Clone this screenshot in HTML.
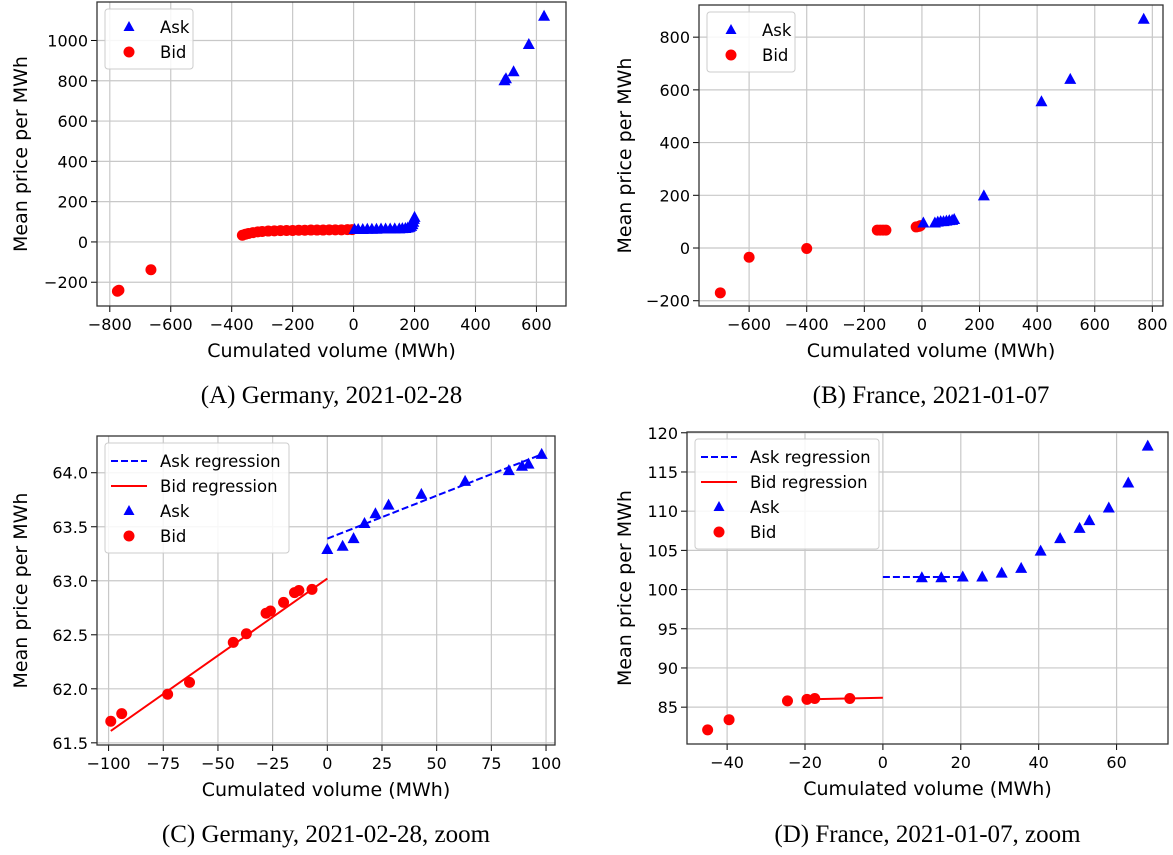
<!DOCTYPE html>
<html><head><meta charset="utf-8">
<style>
html,body{margin:0;padding:0;background:#fff;}
svg{display:block;}
text{font-family:"DejaVu Sans","Liberation Sans",sans-serif;fill:#000;}
.cap{font-family:"Liberation Serif",serif;font-size:25px;}
</style></head>
<body>
<svg id="fig" width="1173" height="855" viewBox="0 0 1173 855" xmlns="http://www.w3.org/2000/svg"></svg>
<script>
// Panel A data
const aAskX=[3,15,30,45,60,75,90,105,120,135,150,160,170,178,184,189,193,196,198,200,495,500,525,575,625];
const aAskY=[62,62,62,63,63,63,64,64,64,65,65,66,67,69,72,77,86,98,112,122,800,810,845,980,1120];
const aBidX=[-775,-770,-665,-365,-355,-345,-330,-315,-300,-280,-260,-240,-220,-200,-180,-160,-140,-120,-100,-80,-60,-40,-20,-5];
const aBidY=[-245,-240,-138,33,38,42,46,50,52,54,55,56,57,57,58,58,59,59,59,60,60,60,61,61];
// Panel B data
const bAskX=[5,45,55,65,75,85,95,105,112,215,415,515,770];
const bAskY=[95,95,98,100,100,102,104,105,108,198,555,640,868];
const bBidX=[-700,-600,-400,-155,-145,-135,-125,-20,-10,-5];
const bBidY=[-170,-35,-2,68,68,68,68,80,82,85];
// Panel C data
const cAskX=[0,7,12,17,22,28,43,63,83,89,92,98];
const cAskY=[63.29,63.32,63.39,63.53,63.62,63.70,63.80,63.92,64.02,64.06,64.08,64.17];
const cBidX=[-99,-94,-73,-63,-43,-37,-28,-26,-20,-15,-13,-7];
const cBidY=[61.70,61.77,61.95,62.06,62.43,62.51,62.70,62.72,62.80,62.89,62.91,62.92];
const cAskRegX=[0,98];
const cAskRegY=[63.39,64.17];
const cBidRegX=[-99,0];
const cBidRegY=[61.61,63.02];
// Panel D data
const dAskX=[10,15,20.5,25.5,30.5,35.5,40.5,45.5,50.5,53,58,63,68];
const dAskY=[101.5,101.5,101.6,101.6,102.1,102.7,104.9,106.5,107.8,108.8,110.4,113.6,118.3];
const dBidX=[-45,-39.5,-24.5,-19.5,-17.5,-8.5];
const dBidY=[82.1,83.4,85.8,86.0,86.1,86.1];
const dAskRegX=[0,20];
const dAskRegY=[101.6,101.6];
const dBidRegX=[0,-20];
const dBidRegY=[86.2,86.0];
// ticks
const aXTicks=[-800,-600,-400,-200,0,200,400,600];
const aYTicks=[-200,0,200,400,600,800,1000];
const bXTicks=[-600,-400,-200,0,200,400,600,800];
const bYTicks=[-200,0,200,400,600,800];
const cXTicks=[-100,-75,-50,-25,0,25,50,75,100];
const cYTicks=[61.5,62.0,62.5,63.0,63.5,64.0];
const cYLabels=["61.5","62.0","62.5","63.0","63.5","64.0"];
const dXTicks=[-40,-20,0,20,40,60];
const dYTicks=[85,90,95,100,105,110,115,120];

const NS="http://www.w3.org/2000/svg";
const fig=document.getElementById('fig');
function el(tag,attrs,parent){const e=document.createElementNS(NS,tag);for(const k in attrs)e.setAttribute(k,attrs[k]);(parent||fig).appendChild(e);return e;}
function txt(s,attrs,parent){const t=el('text',attrs,parent);t.textContent=s;return t;}
function minus(v){return String(v).replace('-','\u2212');}

function panel(p){
  const g=el('g',{});
  
  
  const sx=v=>p.L+(v-p.x0)/(p.x1-p.x0)*(p.R-p.L);
  const sy=v=>p.B-(v-p.y0)/(p.y1-p.y0)*(p.B-p.T);
  p.xt.forEach(v=>{const x=sx(v);
    const gl=el('line',{x1:x,x2:x,y1:p.T,y2:p.B,stroke:'#c8c8c8','stroke-width':1.2},g);
    
    el('line',{x1:x,x2:x,y1:p.B,y2:p.B+6,stroke:'#000','stroke-width':1},g);
    const t=txt(minus(v),{x:x,y:p.B+24,'font-size':16,'text-anchor':'middle'},g);
    
  });
  p.yt.forEach((v,i)=>{const y=sy(v);
    const gl=el('line',{x1:p.L,x2:p.R,y1:y,y2:y,stroke:'#c8c8c8','stroke-width':1.2},g);
    
    el('line',{x1:p.L-6,x2:p.L,y1:y,y2:y,stroke:'#000','stroke-width':1},g);
    const t=txt(minus(p.yl?p.yl[i]:v),{x:p.L-9,y:y+6,'font-size':16,'text-anchor':'end'},g);
    
  });
  if(p.ar){const l=el('line',{x1:sx(p.ar[0][0]),y1:sy(p.ar[1][0]),x2:sx(p.ar[0][1]),y2:sy(p.ar[1][1]),stroke:'#0000ff','stroke-width':2,'stroke-dasharray':'7,3'},g);
    }
  if(p.br){const l=el('line',{x1:sx(p.br[0][0]),y1:sy(p.br[1][0]),x2:sx(p.br[0][1]),y2:sy(p.br[1][1]),stroke:'#ff0000','stroke-width':2},g);
    }
  p.bx.forEach((v,i)=>{const c=el('circle',{cx:sx(v),cy:sy(p.by[i]),r:5.5,fill:'#ff0000'},g);
    });
  p.ax.forEach((v,i)=>{const x=sx(v),y=sy(p.ay[i]);
    const t=el('polygon',{points:`${x},${y-6.5} ${x-6},${y+4.5} ${x+6},${y+4.5}`,fill:'#0000ff'},g);
    });
  el('rect',{x:p.L,y:p.T,width:p.R-p.L,height:p.B-p.T,fill:'none',stroke:'#333','stroke-width':1.3},g);
  const xl=txt('Cumulated volume (MWh)',{x:(p.L+p.R)/2,y:p.B+51,'font-size':19,'text-anchor':'middle'},g);
  
  const yl=txt('Mean price per MWh',{x:0,y:0,'font-size':19,'text-anchor':'middle',transform:`translate(${p.ylx},${(p.T+p.B)/2}) rotate(-90)`},g);
  
  const cp=txt(p.cap,{x:(p.L+p.R)/2,y:p.capY,'text-anchor':'middle',class:'cap'},g);
  
  const lg=el('g',{},g);
  
  const lx=p.L+8,ly=p.T+7;
  const rows=p.ar?['areg','breg','ask','bid']:['ask','bid'];
  const w=p.ar?184:88;
  el('rect',{x:lx,y:ly,width:w,height:rows.length*25+10,rx:3,fill:'#fff','fill-opacity':0.85,stroke:'#ccc'},lg);
  rows.forEach((r,i)=>{const cy=ly+18+i*25;const mx=lx+24;
    if(r==='areg')el('line',{x1:lx+6,x2:lx+42,y1:cy,y2:cy,stroke:'#0000ff','stroke-width':2,'stroke-dasharray':'7,3'},lg);
    if(r==='breg')el('line',{x1:lx+6,x2:lx+42,y1:cy,y2:cy,stroke:'#ff0000','stroke-width':2},lg);
    if(r==='ask')el('polygon',{points:`${mx},${cy-6} ${mx-5.5},${cy+4} ${mx+5.5},${cy+4}`,fill:'#0000ff'},lg);
    if(r==='bid')el('circle',{cx:mx,cy:cy,r:5.5,fill:'#ff0000'},lg);
    const lab={areg:'Ask regression',breg:'Bid regression',ask:'Ask',bid:'Bid'}[r];
    const t=txt(lab,{x:lx+55,y:cy+6,'font-size':16.5},lg);
    
  });
}

panel({name:'panel-a-germany',L:97,R:566,T:2,B:306,x0:-842,x1:697,y0:-318,y1:1191,xt:aXTicks,yt:aYTicks,
  ax:aAskX,ay:aAskY,bx:aBidX,by:aBidY,ylx:27,cap:'(A) Germany, 2021-02-28',capY:403});
panel({name:'panel-b-france',L:699,R:1163,T:5,B:306,x0:-774,x1:837,y0:-220,y1:922,xt:bXTicks,yt:bYTicks,
  ax:bAskX,ay:bAskY,bx:bBidX,by:bBidY,ylx:631,cap:'(B) France, 2021-01-07',capY:403});
panel({name:'panel-c-germany-zoom',L:97,R:555,T:436,B:745,x0:-105.3,x1:104.1,y0:61.48,y1:64.34,xt:cXTicks,yt:cYTicks,yl:cYLabels,
  ax:cAskX,ay:cAskY,bx:cBidX,by:cBidY,ar:[cAskRegX,cAskRegY],br:[cBidRegX,cBidRegY],ylx:27,cap:'(C) Germany, 2021-02-28, zoom',capY:842});
panel({name:'panel-d-france-zoom',L:687,R:1168,T:432,B:744,x0:-50.3,x1:73.2,y0:80.3,y1:120.1,xt:dXTicks,yt:dYTicks,
  ax:dAskX,ay:dAskY,bx:dBidX,by:dBidY,ar:[dAskRegX,dAskRegY],br:[dBidRegX,dBidRegY],ylx:631,cap:'(D) France, 2021-01-07, zoom',capY:842});
</script>
</body></html>
